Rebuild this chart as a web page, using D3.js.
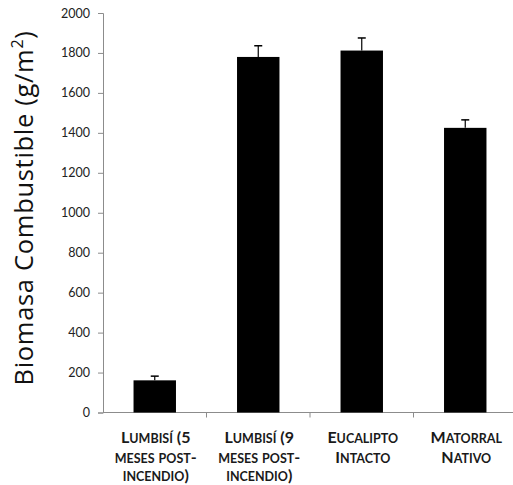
<!DOCTYPE html>
<html>
<head>
<meta charset="utf-8">
<script src="https://cdn.jsdelivr.net/npm/d3@7"></script>
<style>
  body { margin: 0; background: #fff; }
  text { font-family: Lato, "Open Sans", sans-serif; }
</style>
</head>
<body>
<div id="chart"></div>
<script>
const width = 513,
  height = 485,
  margin = { top: 13, bottom: 72.5, left: 103, right: -4 };

// data
const categories = [
  ["Lumbisí (5", "meses post-", "incendio)"],
  ["Lumbisí (9", "meses post-", "incendio)"],
  ["Eucalipto", "Intacto"],
  ["Matorral", "Nativo"]
];
const values = [161, 1780, 1812, 1425];
const errors = [21, 56, 63, 40];
const yTicks = [0, 200, 400, 600, 800, 1000, 1200, 1400, 1600, 1800, 2000];

const svg = d3.select("#chart")
  .append("svg")
  .attr("width", width)
  .attr("height", height);

const xScale = d3.scaleBand()
  .domain(d3.range(values.length))
  .range([margin.left, width - margin.right])
  .paddingInner(0.59)
  .paddingOuter(0.295);

const yScale = d3.scaleLinear()
  .domain([0, 2000])
  .range([height - margin.bottom, margin.top]);

// y axis
const yAxis = svg.append("g")
  .attr("transform", `translate(${margin.left},0)`)
  .call(d3.axisLeft(yScale).tickValues(yTicks).tickFormat(d3.format("d")).tickSize(5).tickPadding(8));
yAxis.select(".domain").attr("stroke", "#8c8c8c");
yAxis.selectAll(".tick line").attr("stroke", "#8c8c8c");
yAxis.selectAll(".tick text")
  .attr("fill", "#222")
  .style("font-size", "12.5px")
  .style("font-family", "Lato, sans-serif");

// x axis
const xAxis = svg.append("g")
  .attr("transform", `translate(0,${height - margin.bottom})`);
xAxis.append("line")
  .attr("x1", margin.left)
  .attr("x2", width)
  .attr("stroke", "#8c8c8c");
xAxis.selectAll(".xtick")
  .data(d3.range(1, values.length))
  .join("line")
  .attr("class", "xtick")
  .attr("x1", d => xScale(d) - xScale.step() * xScale.paddingInner() / 2)
  .attr("x2", d => xScale(d) - xScale.step() * xScale.paddingInner() / 2)
  .attr("y1", 0)
  .attr("y2", 5)
  .attr("stroke", "#8c8c8c");

// bars
svg.selectAll(".bar")
  .data(values)
  .join("rect")
  .attr("class", "bar")
  .attr("x", (d, i) => xScale(i))
  .attr("y", d => yScale(d))
  .attr("width", xScale.bandwidth())
  .attr("height", d => yScale(0) - yScale(d))
  .attr("fill", "#000");

// error bars (upper only)
const err = svg.selectAll(".err")
  .data(values)
  .join("g")
  .attr("class", "err")
  .attr("transform", (d, i) => `translate(${xScale(i) + xScale.bandwidth() / 2},0)`);
err.append("line")
  .attr("y1", d => yScale(d))
  .attr("y2", (d, i) => yScale(d + errors[i]))
  .attr("stroke", "#000")
  .attr("stroke-width", 1.2);
err.append("line")
  .attr("x1", -4)
  .attr("x2", 4)
  .attr("y1", (d, i) => yScale(d + errors[i]))
  .attr("y2", (d, i) => yScale(d + errors[i]))
  .attr("stroke", "#000")
  .attr("stroke-width", 1.5);

// category labels, drawn as small caps by hand
function smallCaps(line) {
  // lowercase letters become small capitals, everything else stays full size
  const runs = [];
  for (const ch of line) {
    const big = ch === ch.toUpperCase();
    const last = runs[runs.length - 1];
    if (last && last.big === big) last.t += ch;
    else runs.push({ big, t: ch });
  }
  return runs;
}

const lineY = [443, 463, 481];
categories.forEach((lines, i) => {
  const t = svg.append("text")
    .attr("class", "cat")
    .attr("text-anchor", "middle")
    .attr("fill", "#1a1a1a")
    .style("font-weight", "bold");
  lines.forEach((line, j) => {
    const runs = smallCaps(line);
    runs.forEach((r, k) => {
      const s = t.append("tspan")
        .style("font-size", r.big ? "16px" : "12.5px")
        .text(r.t.toUpperCase());
      if (k === 0) s.attr("x", xScale(i) + xScale.bandwidth() / 2 + 1).attr("y", lineY[j]);
    });
  });
});

// y title, stretched to the length seen in the reference
const title = svg.append("text")
  .attr("transform", `translate(33,208) rotate(-90)`)
  .attr("text-anchor", "middle")
  .attr("fill", "#111")
  .style("font-size", "25.5px")
  .style("font-family", "'Open Sans', sans-serif");
title.append("tspan").text("Biomasa Combustible (g/m");
title.append("tspan").attr("dy", -10).style("font-size", "16px").text("2");
title.append("tspan").attr("dy", 10).text(")");
const titleLen = title.node().getComputedTextLength();
const nChars = "Biomasa Combustible (g/m2)".length;
title.style("letter-spacing", `${(355 - titleLen) / nChars}px`);
</script>
</body>
</html>
